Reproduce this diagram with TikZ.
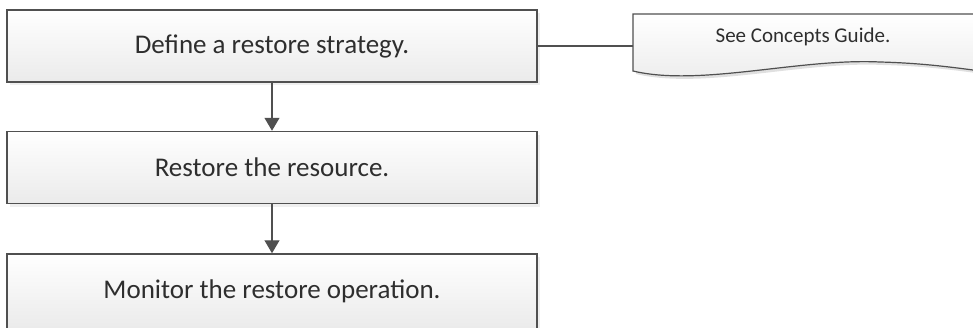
\documentclass[tikz,border=0pt]{standalone}
\usepackage{fontspec}
\setmainfont{Carlito}
\usetikzlibrary{positioning,shadows,arrows.meta}
\definecolor{edge}{HTML}{505050}
\definecolor{ink}{HTML}{2E2E2E}
\tikzstyle{stepbox} = [rectangle, minimum width=530pt, minimum height=72pt, text centered, draw=edge, line width=1.5pt, top color=white, bottom color=black!8, text=ink, font=\fontsize{27}{31}\selectfont, drop shadow={shadow xshift=3pt, shadow yshift=-3pt, fill=black!12}]
\tikzstyle{notebox} = [rectangle, minimum width=340pt, minimum height=46pt, text centered, text=ink, font=\fontsize{21}{25}\selectfont]
\tikzstyle{arrow} = [draw=edge, line width=1.2pt, -{Triangle[width=15pt,length=13pt]}]
\tikzstyle{link} = [draw=edge, line width=1.2pt]

\begin{document}
\begin{tikzpicture}[x=1pt, y=-1pt]
\useasboundingbox (0,0) rectangle (973,327);

% Restore steps

	\node (define) [stepbox] at (272,46) {Define a restore strategy.};

	\node (restore) [stepbox, below=48pt of define] {Restore the resource.};

	\node (monitor) [stepbox, below=49pt of restore, minimum height=75pt] {Monitor the restore operation.};


% Concepts guide note

	\fill [black!12] (976,17) -- (636,17) -- (636,74) .. controls (703,90) and (803,61) .. (883,65) .. controls (923,66) and (953,70) .. (976,73) -- cycle;
	\shade [top color=white, bottom color=black!8] (973,14) -- (633,14) -- (633,71) .. controls (700,87) and (800,58) .. (880,62) .. controls (920,63) and (950,67) .. (973,70) -- cycle;
	\draw [link] (973,14) -- (633,14) -- (633,71) .. controls (700,87) and (800,58) .. (880,62) .. controls (920,63) and (950,67) .. (973,70);

	\node (guide) [notebox] at (803,37) {See Concepts Guide.};


% Step arrows
	\draw [arrow] (define) -- (restore);
	\draw [arrow] (restore) -- (monitor);

% Note link
	\draw [link] (define.east) -- (define.east -| guide.west);

\end{tikzpicture}
\end{document}
